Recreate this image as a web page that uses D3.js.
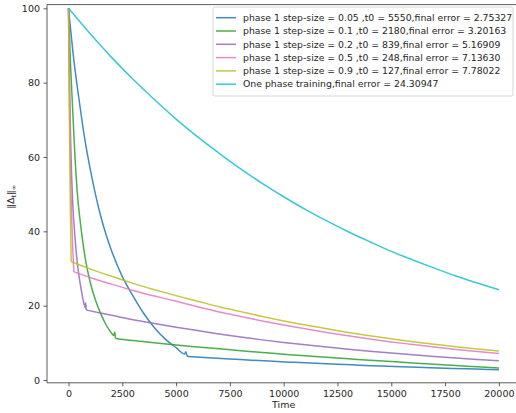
<!DOCTYPE html>
<html>
<head>
<meta charset="utf-8">
<script src="https://cdn.jsdelivr.net/npm/d3@7"></script>
<style>
  body { margin: 0; background: #fff; }
  text { font-family: "DejaVu Sans", sans-serif; }
</style>
</head>
<body>
<div id="chart"></div>
<script>
// times and values, one pair of arrays per run
const blueT = [0, 250, 500, 750, 1000, 1250, 1500, 1750, 2000, 2500, 3000, 3500, 4000, 4500, 5000, 5400, 5450, 5500, 5550,
  6500, 7500, 8500, 9500, 10500, 11500, 12500, 13500, 14500, 15500, 16500, 17500, 18500, 19500, 20000]
const blueV = [100, 86, 75, 65, 57, 50, 44, 39, 34.8, 27.8, 22.6, 17.9, 14.0, 11.0, 8.7, 7.0, 7.6, 6.7, 6.3,
  5.98, 5.65, 5.33, 5.03, 4.75, 4.49, 4.23, 4.0, 3.77, 3.56, 3.36, 3.18, 3.0, 2.83, 2.75]

const greenT = [0, 100, 200, 300, 400, 600, 800, 1000, 1250, 1500, 1750, 2000, 2100, 2150, 2180,
  3000, 4000, 5000, 6000, 7000, 8000, 9000, 10000, 11000, 12000, 13000, 14000, 15000, 16000, 17000, 18000, 19000, 20000]
const greenV = [100, 84, 72, 60, 51, 40, 32, 26.5, 21.5, 17.8, 14.8, 12.6, 12.0, 12.9, 11.2,
  10.6, 10.0, 9.4, 8.9, 8.4, 7.9, 7.4, 6.95, 6.5, 6.1, 5.7, 5.3, 4.95, 4.6, 4.25, 3.9, 3.55, 3.2]

const purpleT = [0, 50, 100, 150, 200, 300, 400, 500, 600, 700, 780, 800, 820, 839,
  2000, 3000, 4000, 5000, 6000, 7000, 8000, 9000, 10000, 11000, 12000, 13000, 14000, 15000, 16000, 17000, 18000, 19000, 20000]
const purpleV = [100, 79, 64, 54, 47, 38.5, 32, 27.5, 24, 21, 19.5, 20.8, 19.2, 18.8,
  17.4, 16.2, 15.2, 14.2, 13.3, 12.4, 11.6, 10.8, 10.1, 9.5, 8.86, 8.28, 7.74, 7.24, 6.77, 6.33, 5.91, 5.53, 5.17]

const pinkT = [0, 25, 50, 75, 100, 150, 200, 248,
  1000, 2000, 3000, 4000, 5000, 6000, 7000, 8000, 9000, 10000, 11000, 12000, 13000, 14000, 15000, 16000, 17000, 18000, 19000, 20000]
const pinkV = [100, 85, 72, 62, 54, 43, 35, 29.1,
  27.6, 25.8, 24.1, 22.6, 21.2, 19.7, 18.3, 17.1, 15.9, 14.8, 13.8, 12.8, 11.9, 11.05, 10.25, 9.55, 8.85, 8.23, 7.67, 7.14]

const yellowT = [0, 20, 40, 60, 80, 100, 127,
  1000, 2000, 3000, 4000, 5000, 6000, 7000, 8000, 9000, 10000, 11000, 12000, 13000, 14000, 15000, 16000, 17000, 18000, 19000, 20000]
const yellowV = [100, 85, 72, 60, 49, 40, 31.8,
  29.9, 27.9, 26.0, 24.3, 22.7, 21.2, 19.7, 18.4, 17.1, 15.9, 14.8, 13.8, 12.8, 11.9, 11.1, 10.3, 9.63, 8.97, 8.36, 7.78]

const cyanT = [0, 1000, 2000, 3000, 4000, 5000, 6000, 7000, 8000, 9000, 10000,
  11000, 12000, 13000, 14000, 15000, 16000, 17000, 18000, 19000, 20000]
const cyanV = [100, 93.2, 86.8, 80.9, 75.4, 70.2, 65.4, 61.0, 56.8, 52.9, 49.3,
  45.9, 42.8, 39.9, 37.2, 34.6, 32.3, 30.1, 28.0, 26.1, 24.3]

// switch time between phase 1 and phase 2 (one-phase run has none)
const switchT = [5550, 2180, 839, 248, 127, null]

const labels = [
  'phase 1 step-size = 0.05 ,t0 = 5550,final error = 2.75327',
  'phase 1 step-size = 0.1 ,t0 = 2180,final error = 3.20163',
  'phase 1 step-size = 0.2 ,t0 = 839,final error = 5.16909',
  'phase 1 step-size = 0.5 ,t0 = 248,final error = 7.13630',
  'phase 1 step-size = 0.9 ,t0 = 127,final error = 7.78022',
  'One phase training,final error = 24.30947'
]
const colors = ['#1f77b4', '#2ca02c', '#9467bd', '#e377c2', '#bcbd22', '#17becf']
const xTicks = [0, 2500, 5000, 7500, 10000, 12500, 15000, 17500, 20000]
const yTicks = [0, 20, 40, 60, 80, 100]

const series = [
  [blueT, blueV], [greenT, greenV], [purpleT, purpleV],
  [pinkT, pinkV], [yellowT, yellowV], [cyanT, cyanV]
]

const W = 516, H = 413
const mLeft = 47, mRight = 520.4, mTop = 4.6, mBottom = 382.8

const svg = d3.select('#chart').append('svg')
  .attr('width', W)
  .attr('height', H)

const x = d3.scaleLinear().domain([-1000, 21000]).range([mLeft, mRight])
const y = d3.scaleLinear().domain([-0.75, 101]).range([mBottom, mTop])

svg.append('clipPath').attr('id', 'clip')
  .append('rect')
  .attr('x', mLeft).attr('y', mTop)
  .attr('width', mRight - mLeft).attr('height', mBottom - mTop)

const line = d3.line()
  .curve(d3.curveMonotoneX)
  .x(d => x(d[0]))
  .y(d => y(d[1]))

const plot = svg.append('g').attr('clip-path', 'url(#clip)')
series.forEach((s, i) => {
  const pts = s[0].map((t, j) => [t, s[1][j]])
  const t0 = switchT[i]
  // draw each phase on its own so the corner at t0 stays sharp
  const parts = t0 == null ? [pts] : [pts.filter(d => d[0] <= t0), pts.filter(d => d[0] >= t0)]
  const g = plot.append('g')
    .attr('stroke', colors[i])
    .attr('stroke-opacity', 0.85)
  parts.forEach(p => {
    g.append('path')
      .datum(p)
      .attr('d', line)
      .attr('fill', 'none')
      .attr('stroke-width', 1.5)
      .attr('stroke-linejoin', 'round')
  })
})

// axes
const xAxis = svg.append('g')
  .attr('transform', `translate(0,${mBottom})`)
  .call(d3.axisBottom(x).tickValues(xTicks).tickSize(3.5).tickPadding(3.5).tickFormat(d3.format('d')))
const yAxis = svg.append('g')
  .attr('transform', `translate(${mLeft},0)`)
  .call(d3.axisLeft(y).tickValues(yTicks).tickSize(3.5).tickPadding(3.5))

for (const g of [xAxis, yAxis]) {
  g.select('.domain').remove()
  g.selectAll('line').attr('stroke', '#333').attr('stroke-width', 0.8)
  g.selectAll('text').attr('fill', '#262626').style('font-size', '9.5px')
    .style('font-family', '"DejaVu Sans", sans-serif')
}

// spines (right spine falls outside the picture)
svg.append('path')
  .attr('d', `M${mRight},${mTop}H${mLeft}V${mBottom}H${mRight}`)
  .attr('fill', 'none')
  .attr('stroke', '#333')
  .attr('stroke-width', 0.8)

svg.append('text')
  .attr('x', (mLeft + mRight) / 2)
  .attr('y', 408)
  .attr('text-anchor', 'middle')
  .attr('fill', '#262626')
  .style('font-size', '9.5px')
  .text('Time')

const ylab = svg.append('text')
  .attr('transform', `translate(14,${(mTop + mBottom) / 2 + 3}) rotate(-90)`)
  .attr('text-anchor', 'middle')
  .attr('fill', '#262626')
  .style('font-size', '9.5px')
ylab.append('tspan').text('‖Δ')
ylab.append('tspan').attr('dy', 2).style('font-size', '6.5px').text('t')
ylab.append('tspan').attr('dy', -2).text('‖')
ylab.append('tspan').attr('dy', 2).style('font-size', '6.5px').text('∞')

// legend
const lg = svg.append('g')
lg.append('rect')
  .attr('x', 213).attr('y', 7)
  .attr('width', 300).attr('height', 89)
  .attr('rx', 2)
  .attr('fill', '#fff').attr('fill-opacity', 0.8)
  .attr('stroke', '#ccc').attr('stroke-width', 0.8)
labels.forEach((lab, i) => {
  const cy = 17.7 + i * 13.3
  lg.append('line')
    .attr('x1', 216).attr('x2', 236)
    .attr('y1', cy).attr('y2', cy)
    .attr('stroke', colors[i]).attr('stroke-opacity', 0.85).attr('stroke-width', 1.5)
  lg.append('text')
    .attr('x', 243).attr('y', cy)
    .attr('dy', '0.35em')
    .attr('fill', '#262626')
    .style('font-size', '9.3px')
    .text(lab)
})
</script>
</body>
</html>
